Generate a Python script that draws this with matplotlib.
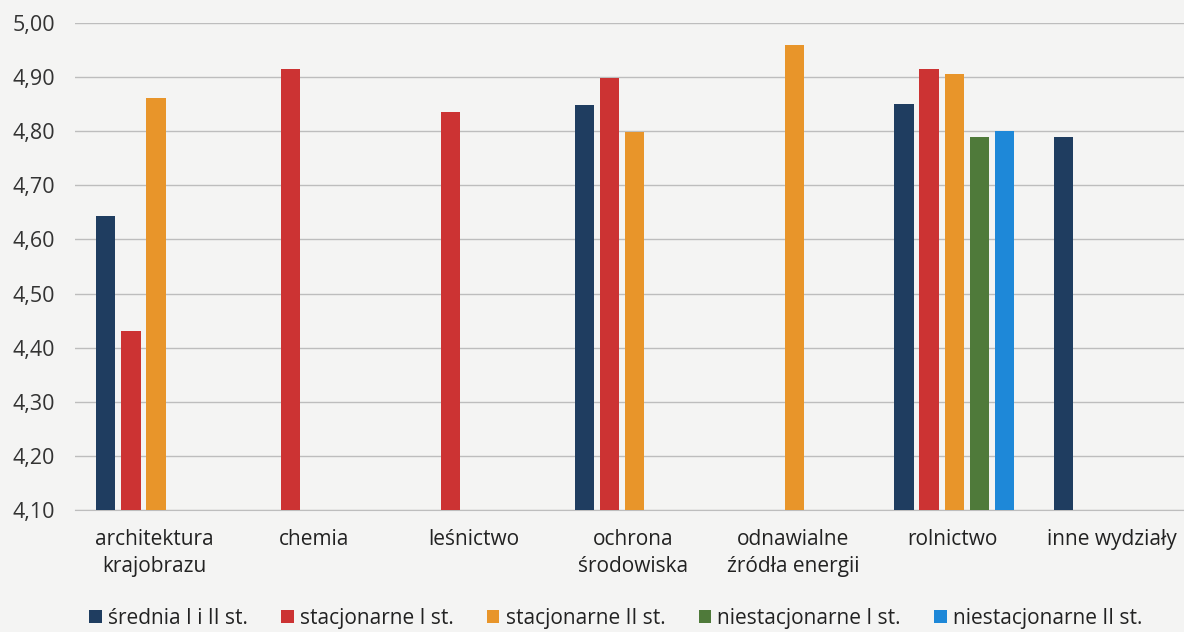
import numpy as np
import matplotlib.pyplot as plt

plt.rcParams['font.family'] = ['Open Sans', 'DejaVu Sans']

categories = ['architektura\nkrajobrazu', 'chemia', 'leśnictwo', 'ochrona\nśrodowiska',
              'odnawialne\nźródła energii', 'rolnictwo', 'inne wydziały']
series_names = ['średnia I i II st.', 'stacjonarne I st.', 'stacjonarne II st.',
                'niestacjonarne I st.', 'niestacjonarne II st.']
nan = np.nan
srednia = [4.643, nan, nan, 4.848, nan, 4.85, 4.79]
stac_1 = [4.43, 4.915, 4.835, 4.898, nan, 4.915, nan]
stac_2 = [4.861, nan, nan, 4.798, 4.959, 4.906, nan]
niestac_1 = [nan, nan, nan, nan, nan, 4.79, nan]
niestac_2 = [nan, nan, nan, nan, nan, 4.80, nan]
y_ticks = [4.1, 4.2, 4.3, 4.4, 4.5, 4.6, 4.7, 4.8, 4.9, 5.0]

colors = ['#1f3d60', '#cc3333', '#e8952a', '#4f7a3a', '#1e88d8']
bg = '#f4f4f3'

fig = plt.figure(figsize=(11.84, 6.32), dpi=100, facecolor=bg)
ax = fig.add_axes([0.063, 0.193, 0.937, 0.7706], facecolor=bg)

x = np.arange(len(categories))
slot = 0.157
width = 0.12
data = [srednia, stac_1, stac_2, niestac_1, niestac_2]
base = 4.1
for i, (vals, name, c) in enumerate(zip(data, series_names, colors)):
    v = np.array(vals, dtype=float)
    ax.bar(x + (i - 2) * slot + 0.01, v - base, width, bottom=base, color=c, label=name, zorder=3)

ax.set_ylim(4.1, 5.0)
ax.set_xlim(-0.5, 6.45)
ax.set_yticks(y_ticks)
ax.set_yticklabels([f'{t:.2f}'.replace('.', ',') for t in y_ticks], fontsize=15.5, color='#333333')
ax.set_xticks(x)
ax.set_xticklabels(categories, fontsize=15, color='#222222', linespacing=1.35)
ax.tick_params(length=0)
ax.tick_params(axis='y', pad=14)
ax.tick_params(axis='x', pad=14)
ax.grid(axis='y', color='#bdbdbd', linewidth=1, zorder=0)
for s in ['top', 'right', 'left']:
    ax.spines[s].set_visible(False)
ax.spines['bottom'].set_color('#bdbdbd')

fig.legend(loc='lower center', bbox_to_anchor=(0.52, -0.025), ncol=5, frameon=False,
           fontsize=15, handlelength=0.6, handleheight=0.6, handletextpad=0.3,
           columnspacing=1.6, labelcolor='#222222')

fig.savefig('out.png', dpi=100, facecolor=bg)
